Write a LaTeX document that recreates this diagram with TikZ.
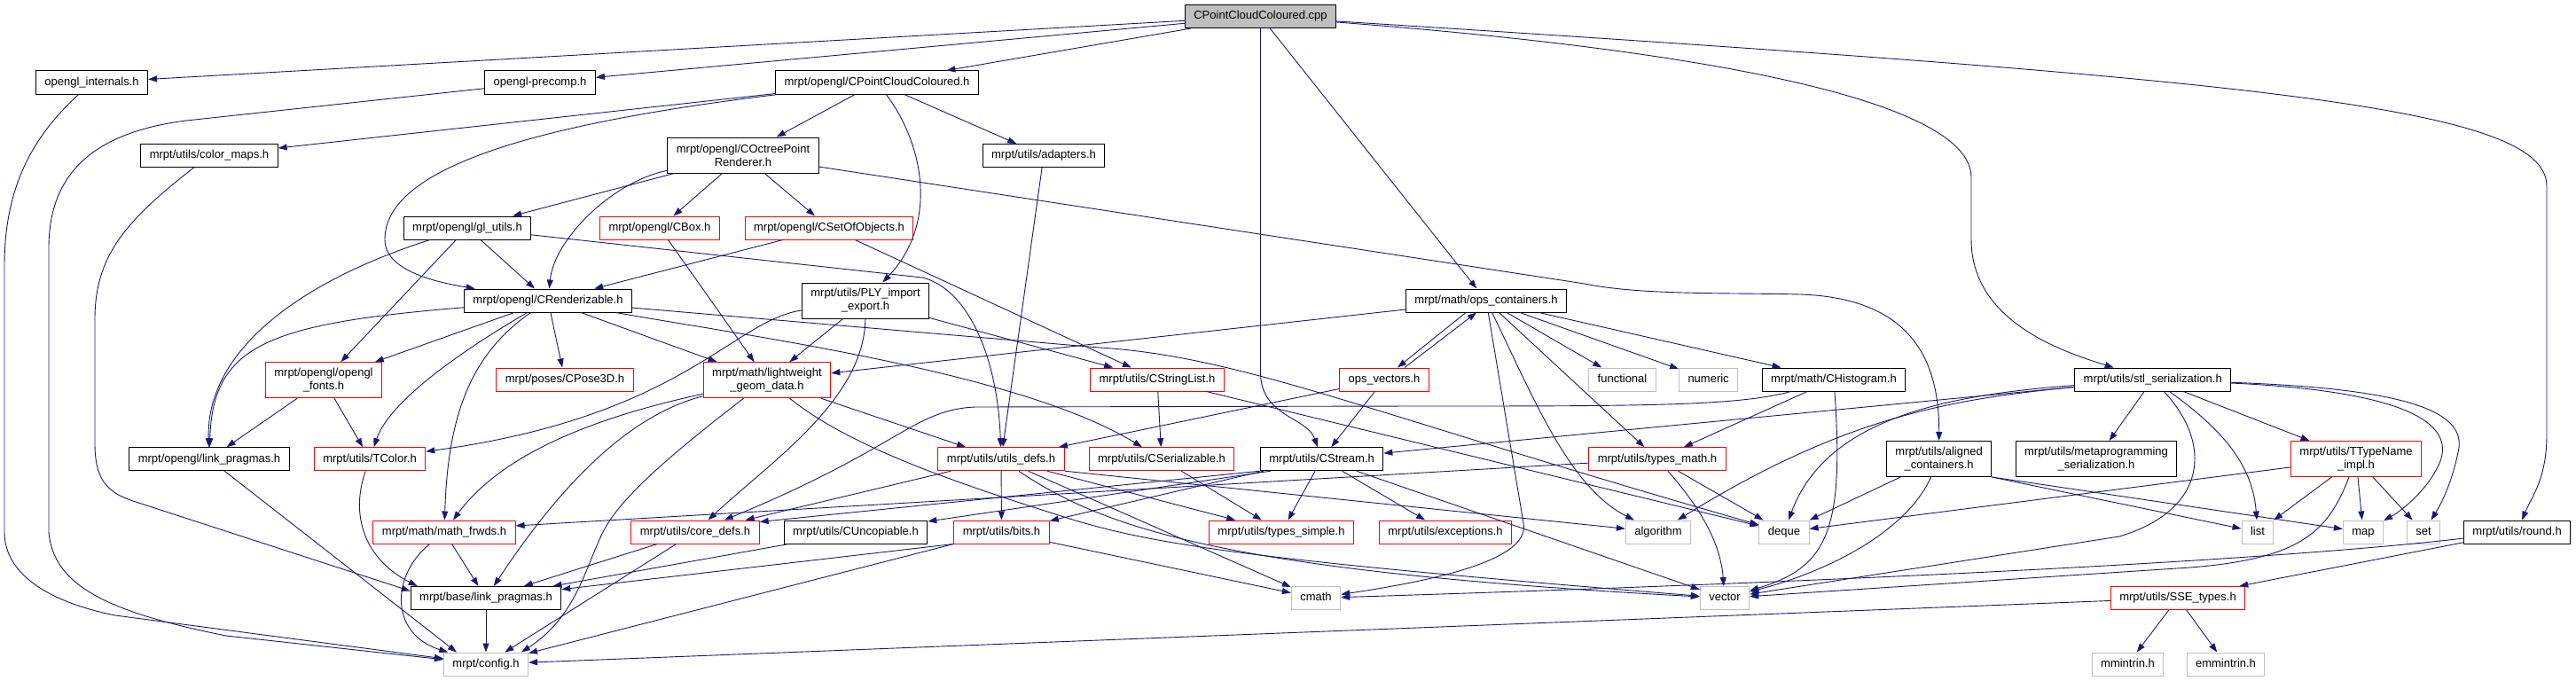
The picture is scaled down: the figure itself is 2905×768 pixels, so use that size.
\documentclass[tikz,border=0pt]{standalone}
\usepackage{fontspec}
\setmainfont{Liberation Sans}
\usetikzlibrary{arrows.meta}
\definecolor{edgeblue}{HTML}{191970}
\definecolor{cutred}{HTML}{FF0000}
\definecolor{sysgray}{HTML}{BFBFBF}
\tikzset{
>={Triangle[length=10pt,width=7pt]}, % filled heads as in the include graph
dep/.style={->, draw=edgeblue, line width=0.9pt}, % one include edge
file/.style={rectangle, line width=1pt, fill=white, inner xsep=10pt, inner ysep=0pt, font=\fontsize{13}{15}\selectfont},
one/.style={file, minimum height=26pt, text height=9.5pt, text depth=2.8pt}, % one line of text
two/.style={file, minimum height=40pt, align=center}, % name broken in two lines
doc/.style={draw=black}, % documented header
cut/.style={draw=cutred}, % graph truncated below it
sys/.style={draw=sysgray}, % system header
}

\begin{document}
\begin{tikzpicture}[x=1pt,y=-1pt]
\useasboundingbox (0,0) rectangle (2905,768);

% first rows
\node[one, doc, fill=sysgray] (cpp) at (1421.5,18.5) {CPointCloudColoured.cpp};
\node[one, doc] (internals) at (103.5,93) {opengl\_internals.h};
\node[one, doc] (precomp) at (609,93) {opengl-precomp.h};
\node[one, doc] (pcch) at (989,93) {mrpt/opengl/CPointCloudColoured.h};
\node[one, doc] (colormaps) at (236,175.5) {mrpt/utils/color\_maps.h};
\node[two, doc] (octree) at (838,175) {mrpt/opengl/COctreePoint\\Renderer.h};
\node[one, doc] (adapters) at (1177,175.5) {mrpt/utils/adapters.h};
\node[one, doc] (glutils) at (527,257) {mrpt/opengl/gl\_utils.h};
\node[one, cut] (cbox) at (744,257) {mrpt/opengl/CBox.h};
\node[one, cut] (csetobj) at (935,257) {mrpt/opengl/CSetOfObjects.h};
\node[one, doc] (crend) at (618,339) {mrpt/opengl/CRenderizable.h};
\node[two, doc] (ply) at (976,339) {mrpt/utils/PLY\_import\\\_export.h};
\node[one, doc] (opscont) at (1676,339) {mrpt/math/ops\_containers.h};

% middle rows
\node[two, cut] (fonts) at (365,428.7) {mrpt/opengl/opengl\\\_fonts.h};
\node[one, cut] (pose) at (637,428) {mrpt/poses/CPose3D.h};
\node[two, cut] (lwgeom) at (865,428.7) {mrpt/math/lightweight\\\_geom\_data.h};
\node[one, cut] (strlist) at (1305,428) {mrpt/utils/CStringList.h};
\node[one, cut] (opsvec) at (1561,428) {ops\_vectors.h};
\node[one, sys] (functional) at (1829.5,428) {functional};
\node[one, sys] (numeric) at (1926.6,428) {numeric};
\node[one, doc] (chist) at (2068,428) {mrpt/math/CHistogram.h};
\node[one, doc] (stlser) at (2427.7,428) {mrpt/utils/stl\_serialization.h};
\node[one, doc] (oglpragmas) at (236,517.7) {mrpt/opengl/link\_pragmas.h};
\node[one, cut] (tcolor) at (417,517.7) {mrpt/utils/TColor.h};
\node[one, cut] (utilsdefs) at (1129,517.7) {mrpt/utils/utils\_defs.h};
\node[one, cut] (cser) at (1310,517.7) {mrpt/utils/CSerializable.h};
\node[one, doc] (cstream) at (1490.6,517.7) {mrpt/utils/CStream.h};
\node[one, cut] (typesmath) at (1869,517.7) {mrpt/utils/types\_math.h};
\node[two, doc] (aligned) at (2186.6,517.5) {mrpt/utils/aligned\\\_containers.h};
\node[two, doc] (metaser) at (2364,517.5) {mrpt/utils/metaprogramming\\\_serialization.h};
\node[two, cut] (ttype) at (2657,517.5) {mrpt/utils/TTypeName\\\_impl.h};

% lower rows
\node[one, cut] (mathfrwds) at (501,600) {mrpt/math/math\_frwds.h};
\node[one, cut] (coredefs) at (784,600) {mrpt/utils/core\_defs.h};
\node[one, doc] (cuncop) at (965,600) {mrpt/utils/CUncopiable.h};
\node[one, cut] (bits) at (1129.5,600) {mrpt/utils/bits.h};
\node[one, cut] (typessimple) at (1445,600) {mrpt/utils/types\_simple.h};
\node[one, cut] (exceptions) at (1630,600) {mrpt/utils/exceptions.h};
\node[one, sys] (algorithm) at (1870,600) {algorithm};
\node[one, sys] (deque) at (2012,600) {deque};
\node[one, sys] (list) at (2546,600) {list};
\node[one, sys] (map) at (2665,600) {map};
\node[one, sys] (set) at (2733,600) {set};
\node[one, doc] (round) at (2838.5,600) {mrpt/utils/round.h};
\node[one, doc] (basepragmas) at (548,674.5) {mrpt/base/link\_pragmas.h};
\node[one, sys] (cmath) at (1484,674.5) {cmath};
\node[one, sys] (vector) at (1945,674.5) {vector};
\node[one, cut] (sse) at (2456,674.5) {mrpt/utils/SSE\_types.h};
\node[one, sys] (config) at (548,749) {mrpt/config.h};
\node[one, sys] (mmintrin) at (2399.5,749) {mmintrin.h};
\node[one, sys] (emmintrin) at (2510,749) {emmintrin.h};

% from the source file
\draw[dep] (cpp) -- (internals);
\draw[dep] (cpp) -- (precomp);
\draw[dep] (cpp) -- (pcch);
\draw[dep] (cpp.south) -- (1421.5,420) .. controls (1421.5,470) and (1474,470) .. (cstream);
\draw[dep] (cpp) -- (opscont);
\draw[dep] (cpp) .. controls (1900,55) and (2223,110) .. (2223,200) -- (2223,270) .. controls (2223,360) and (2320,395) .. (stlser);
\draw[dep] (cpp) .. controls (2550,90) and (2872,120) .. (2872,210) -- (2872,490) .. controls (2872,540) and (2855,560) .. (round);

% opengl headers
\draw[dep] (pcch) -- (colormaps);
\draw[dep] (pcch) .. controls (600,140) and (434,190) .. (434,270) .. controls (434,305) and (490,318) .. (crend);
\draw[dep] (pcch) -- (octree);
\draw[dep] (pcch) -- (adapters);
\draw[dep] (pcch) .. controls (1040,160) and (1060,250) .. (ply);
\draw[dep] (internals) .. controls (30,160) and (5,220) .. (5,300) -- (5,600) .. controls (5,650) and (60,680) .. (130,694) -- (config);
\draw[dep] (precomp) -- (210,136) .. controls (100,150) and (55,200) .. (55,280) -- (55,600) .. controls (60,660) and (120,690) .. (255,717) -- (config);
\draw[dep] (colormaps) .. controls (140,250) and (107,290) .. (107,360) -- (107,500) .. controls (107,540) and (120,555) .. (150,565) -- ([yshift=8pt]basepragmas.west);
\draw[dep] (octree) -- (glutils);
\draw[dep] (octree) .. controls (690,205) and (625,270) .. (crend);
\draw[dep] (octree) -- (cbox);
\draw[dep] (octree) -- (csetobj);
\draw[dep] (octree) -- (1787,320) .. controls (1850,333) and (1950,330) .. (2030,332) .. controls (2150,336) and (2187,400) .. (aligned);
\draw[dep] (adapters) -- (utilsdefs);
\draw[dep] (glutils) -- (crend);
\draw[dep] (glutils) -- (fonts);
\draw[dep] (glutils) .. controls (330,320) and (232,400) .. (oglpragmas);
\draw[dep] (glutils) -- (1040,313) .. controls (1090,325) and (1125,400) .. (utilsdefs);
\draw[dep] (cbox) -- (lwgeom);
\draw[dep] (csetobj) -- (crend);
\draw[dep] (csetobj) -- (strlist);
\draw[dep] (crend) .. controls (300,365) and (240,390) .. (oglpragmas);
\draw[dep] (crend) -- (fonts);
\draw[dep] (crend) .. controls (530,390) and (440,450) .. (tcolor);
\draw[dep] (crend) .. controls (530,400) and (505,470) .. (mathfrwds);
\draw[dep] (crend) -- (pose);
\draw[dep] (crend) -- (lwgeom);
\draw[dep] (crend) .. controls (850,380) and (1150,420) .. (cser);
\draw[dep] (crend) -- (1240,392) .. controls (1400,402) and (1540,465) .. (deque);
\draw[dep] (ply) -- (lwgeom);
\draw[dep] (ply) -- (strlist);
\draw[dep] (ply) .. controls (975,450) and (870,520) .. (coredefs);
\draw[dep] (ply) .. controls (825,362) and (770,470) .. (tcolor);
\draw[dep] (fonts) -- (oglpragmas);
\draw[dep] (fonts) -- (tcolor);

% math and utils headers
\draw[dep] (lwgeom) -- (utilsdefs);
\draw[dep] (lwgeom) .. controls (960,505) and (1080,545) .. (1200,583) .. controls (1300,615) and (1420,632) .. (vector);
\draw[dep] (lwgeom) .. controls (650,475) and (560,520) .. (mathfrwds);
\draw[dep] (lwgeom) .. controls (700,470) and (620,565) .. (basepragmas);
\draw[dep] (lwgeom) .. controls (760,510) and (700,560) .. (680,600) .. controls (660,640) and (650,695) .. ([xshift=-8pt]config.north east);
\draw[dep] (strlist) -- (cser);
\draw[dep] (strlist) -- (deque);
\draw[dep] ([xshift=-23pt]opscont.south) -- ([xshift=15pt]opsvec.north);
\draw[dep] ([xshift=23pt]opsvec.north) -- ([xshift=-11pt]opscont.south);
\draw[dep] (opsvec) -- (cstream);
\draw[dep] (opsvec) -- (utilsdefs);
\draw[dep] (opscont) -- (functional);
\draw[dep] (opscont) -- (numeric);
\draw[dep] (opscont) -- (chist);
\draw[dep] (opscont) -- (lwgeom);
\draw[dep] (opscont) -- (typesmath);
\draw[dep] (opscont) .. controls (1730,450) and (1770,550) .. (algorithm);
\draw[dep] (opscont) -- (1718,590) .. controls (1725,625) and (1650,650) .. (cmath);
\draw[dep] (chist) .. controls (1960,458) and (1850,458) .. (1600,458) -- (1100,459) .. controls (1030,462) and (1015,505) .. (coredefs);
\draw[dep] (chist) -- (typesmath);
\draw[dep] (chist) .. controls (2080,600) and (2060,640) .. (vector);
\draw[dep] (stlser) -- (metaser);
\draw[dep] (stlser) -- (ttype);
\draw[dep] (stlser) .. controls (2500,480) and (2540,520) .. (list);
\draw[dep] (stlser) .. controls (2495,500) and (2490,575) .. (2390,605) -- (vector);
\draw[dep] (stlser) .. controls (2690,440) and (2770,470) .. (2752,520) .. controls (2740,550) and (2710,575) .. (map);
\draw[dep] (stlser) .. controls (2700,438) and (2785,460) .. (2772,510) .. controls (2766,540) and (2755,565) .. (set);
\draw[dep] (stlser) -- (cstream);
\draw[dep] (stlser) .. controls (2200,450) and (2080,470) .. (algorithm);
\draw[dep] (stlser) .. controls (2200,445) and (2060,470) .. (deque);
\draw[dep] (ttype) -- (deque);
\draw[dep] (ttype) -- (list);
\draw[dep] (ttype) -- (map);
\draw[dep] (ttype) -- (set);
\draw[dep] (ttype) .. controls (2625,600) and (2595,630) .. (2470,640) -- (vector);
\draw[dep] (aligned) -- (deque);
\draw[dep] (aligned) .. controls (2150,600) and (2060,645) .. (vector);
\draw[dep] (aligned.south east) -- (list);
\draw[dep] (aligned.south east) -- (map);
\draw[dep] (typesmath) -- (mathfrwds.5);
\draw[dep] (typesmath) .. controls (1915,570) and (1940,610) .. (vector);
\draw[dep] (typesmath) -- (deque);
\draw[dep] (utilsdefs) -- (coredefs);
\draw[dep] (utilsdefs) -- (bits);
\draw[dep] (utilsdefs) -- (typessimple);
\draw[dep] (utilsdefs) -- (cmath);
\draw[dep] (utilsdefs) .. controls (1250,600) and (1400,645) .. (vector);
\draw[dep] (utilsdefs.south east) -- (algorithm);
\draw[dep] (cser) -- (typessimple);
\draw[dep] (cstream.south west) -- (coredefs.9);
\draw[dep] ([xshift=12pt]cstream.south west) -- (cuncop);
\draw[dep] ([xshift=4pt]cstream.south west) -- (bits);
\draw[dep] (cstream) -- (typessimple);
\draw[dep] (cstream) -- (exceptions);
\draw[dep] (cstream) -- (vector);

% bottom headers
\draw[dep] (bits.south west) -- (basepragmas);
\draw[dep] (bits.south west) -- (config);
\draw[dep] (bits) -- (cmath);
\draw[dep] (coredefs) -- (basepragmas);
\draw[dep] (coredefs) -- (config);
\draw[dep] (cuncop) -- (basepragmas);
\draw[dep] (mathfrwds) -- (basepragmas);
\draw[dep] (mathfrwds) .. controls (440,650) and (440,715) .. (config);
\draw[dep] (tcolor) .. controls (395,580) and (410,630) .. ([xshift=8pt]basepragmas.north west);
\draw[dep] (oglpragmas) -- ([xshift=15pt]config.north west);
\draw[dep] (basepragmas) -- (config);
\draw[dep] (round) -- (sse);
\draw[dep] (round) .. controls (2600,628) and (2200,652) .. (cmath);
\draw[dep] (sse) -- (config);
\draw[dep] (sse) -- (mmintrin);
\draw[dep] (sse) -- (emmintrin);
\end{tikzpicture}
\end{document}
